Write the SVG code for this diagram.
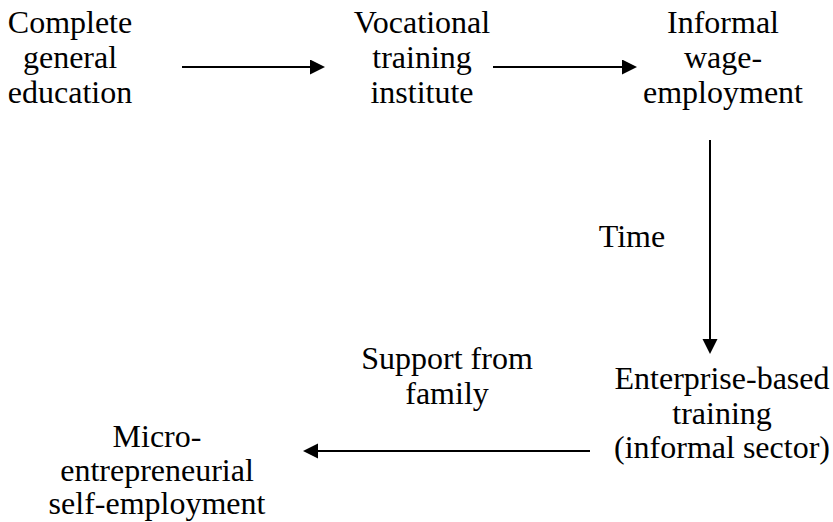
<svg xmlns="http://www.w3.org/2000/svg" width="833" height="522" viewBox="0 0 833 522">
  <style>
    text { font-size: 32px; fill: #000; text-anchor: middle; }
    .link { stroke: #000; stroke-width: 2; fill: none; marker-end: url(#head); }
  </style>
  <defs>
    <marker id="head" markerUnits="userSpaceOnUse" markerWidth="16" markerHeight="16" refX="1" refY="7.5" orient="auto">
      <path d="M0,0 L15,7.5 L0,15 Z" fill="#000"/>
    </marker>
  </defs>
  <rect width="833" height="522" fill="#fff"/>

  <g id="connectors">
    <line class="link" x1="182" y1="67" x2="311" y2="67"/>
    <line class="link" x1="493" y1="67" x2="623" y2="67"/>
    <line class="link" x1="710" y1="140" x2="710" y2="340"/>
    <line class="link" x1="590" y1="451" x2="317" y2="451"/>
  </g>

  <g font-family="'Liberation Serif', Tinos, 'DejaVu Serif', 'Noto Serif', serif">
    <g id="general-education">
      <text x="70" y="33">Complete</text>
      <text x="70" y="68">general</text>
      <text x="70" y="103">education</text>
    </g>

    <g id="vocational-training">
      <text x="422" y="33">Vocational</text>
      <text x="422" y="68">training</text>
      <text x="422" y="103">institute</text>
    </g>

    <g id="informal-wage-employment">
      <text x="723" y="33">Informal</text>
      <text x="723" y="68">wage-</text>
      <text x="723" y="103">employment</text>
    </g>

    <g id="label-time">
      <text x="632" y="247">Time</text>
    </g>

    <g id="enterprise-training">
      <text x="722" y="389">Enterprise-based</text>
      <text x="722" y="424">training</text>
      <text x="722" y="458">(informal sector)</text>
    </g>

    <g id="label-family-support">
      <text x="447" y="369">Support from</text>
      <text x="447" y="404">family</text>
    </g>

    <g id="micro-self-employment">
      <text x="157" y="447">Micro-</text>
      <text x="157" y="481">entrepreneurial</text>
      <text x="157" y="514">self-employment</text>
    </g>
  </g>
</svg>
